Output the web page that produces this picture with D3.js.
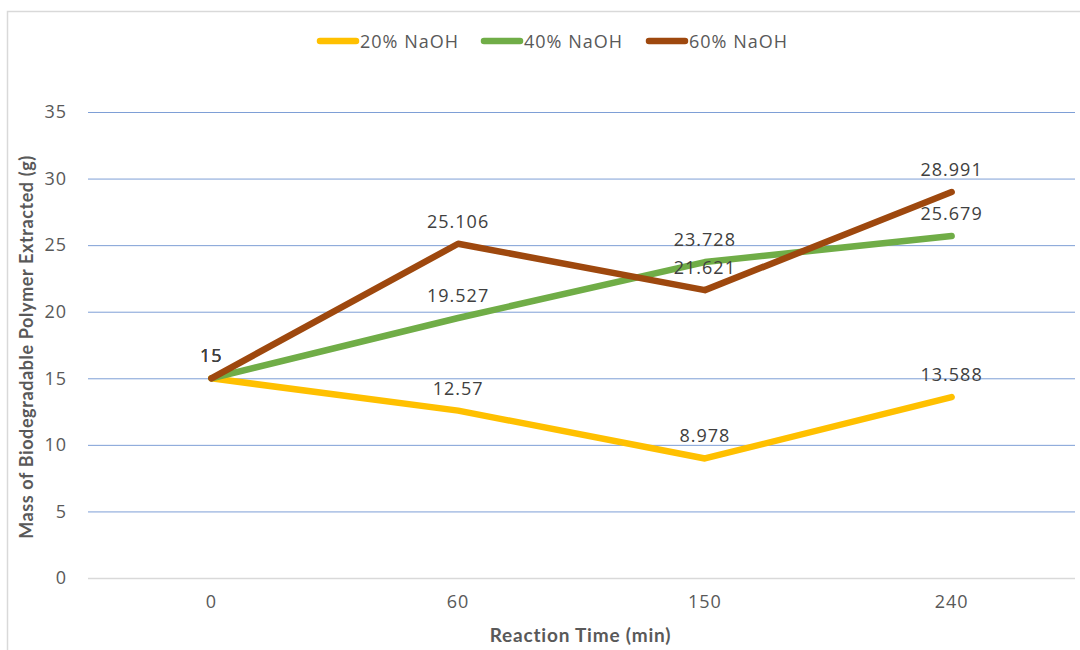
<!DOCTYPE html>
<html>
<head>
<meta charset="utf-8">
<script src="https://cdn.jsdelivr.net/npm/d3@7"></script>
<style>
  html, body { margin: 0; padding: 0; background: #ffffff; }
  svg { display: block; }
</style>
</head>
<body>
<svg id="chart" width="1080" height="650"></svg>
<script>
// Reaction time categories (min)
const categories = ["0", "60", "150", "240"];
// Mass of polymer extracted (g) for each NaOH concentration
const series20 = [15, 12.57, 8.978, 13.588];
const series40 = [15, 19.527, 23.728, 25.679];
const series60 = [15, 25.106, 21.621, 28.991];
const seriesNames = ["20% NaOH", "40% NaOH", "60% NaOH"];
const yTicks = [0, 5, 10, 15, 20, 25, 30, 35];

const colors = ["#FFC000", "#70AD47", "#9E480E"];
const allSeries = [series20, series40, series60];

const svg = d3.select("#chart");
const W = 1080, H = 650;
const plot = { left: 88, right: 1075, top: 112, bottom: 578 };

// Frame of the chart area
svg.append("rect").attr("x", 0).attr("y", 0).attr("width", W).attr("height", H).attr("fill", "#ffffff");
svg.append("path")
  .attr("d", `M7.5,${H} V11.5 H${W}`)
  .attr("fill", "none").attr("stroke", "#d9d9d9").attr("stroke-width", 1.5);

const x = d3.scaleBand().domain(categories).range([plot.left, plot.right]);
const y = d3.scaleLinear().domain([0, 35]).range([plot.bottom, plot.top]);

const fontMain = "'Open Sans', 'Segoe UI', sans-serif";
const fontTitle = "Lato, 'Open Sans', sans-serif";
const textColor = "#595959";

// Horizontal gridlines and value labels
const yAxis = d3.axisLeft(y).tickValues(yTicks).tickSize(-(plot.right - plot.left)).tickPadding(21);
const gy = svg.append("g").attr("transform", `translate(${plot.left},0)`).call(yAxis);
gy.select(".domain").remove();
gy.selectAll(".tick line")
  .attr("stroke", d => d === 0 ? "#d9d9d9" : "#7e9fd6")
  .attr("stroke-width", d => d === 0 ? 1.5 : 1);
gy.selectAll(".tick text")
  .attr("fill", textColor).attr("font-family", fontMain).attr("font-size", 18)
  .attr("letter-spacing", 1);

// Category axis labels
const xAxis = d3.axisBottom(x).tickSize(0).tickPadding(17);
const gx = svg.append("g").attr("transform", `translate(0,${plot.bottom})`).call(xAxis);
gx.select(".domain").remove();
gx.selectAll(".tick text")
  .attr("fill", textColor).attr("font-family", fontMain).attr("font-size", 18)
  .attr("letter-spacing", 1);

// Axis titles
svg.append("text")
  .attr("x", (plot.left + plot.right) / 2 - 1).attr("y", 642)
  .attr("text-anchor", "middle")
  .attr("fill", textColor).attr("font-family", fontTitle)
  .attr("font-weight", "bold").attr("font-size", 19).attr("letter-spacing", 0.8)
  .text("Reaction Time (min)");
svg.append("text")
  .attr("transform", `translate(33,${(plot.top + plot.bottom) / 2 + 2}) rotate(-90)`)
  .attr("text-anchor", "middle")
  .attr("fill", textColor).attr("font-family", fontTitle)
  .attr("font-weight", "bold").attr("font-size", 18).attr("letter-spacing", 0.6)
  .text("Mass of Biodegradable Polymer Extracted  (g)");

// Series lines
const line = d3.line()
  .x((d, i) => x(categories[i]) + x.bandwidth() / 2)
  .y(d => y(d));

allSeries.forEach((s, k) => {
  svg.append("path")
    .datum(s)
    .attr("d", line)
    .attr("fill", "none")
    .attr("stroke", colors[k])
    .attr("stroke-width", 6.5)
    .attr("stroke-linecap", "round")
    .attr("stroke-linejoin", "round");
});

// Data labels above each point
allSeries.forEach((s, k) => {
  svg.append("g").selectAll("text")
    .data(s)
    .join("text")
    .attr("x", (d, i) => x(categories[i]) + x.bandwidth() / 2)
    .attr("y", d => y(d) - 16)
    .attr("text-anchor", "middle")
    .attr("fill", "#404040")
    .attr("font-family", fontMain)
    .attr("font-size", 18)
    .attr("letter-spacing", 1)
    .text(d => String(d));
});

// Legend
const legendX = [317, 481, 646];
seriesNames.forEach((name, k) => {
  const g = svg.append("g").attr("transform", `translate(${legendX[k]},41)`);
  g.append("line")
    .attr("x1", 3).attr("x2", 39).attr("y1", 0).attr("y2", 0)
    .attr("stroke", colors[k]).attr("stroke-width", 6.5).attr("stroke-linecap", "round");
  g.append("text")
    .attr("x", 43).attr("y", 7)
    .attr("fill", textColor).attr("font-family", fontMain).attr("font-size", 18)
    .attr("letter-spacing", 1)
    .text(name);
});
</script>
</body>
</html>
